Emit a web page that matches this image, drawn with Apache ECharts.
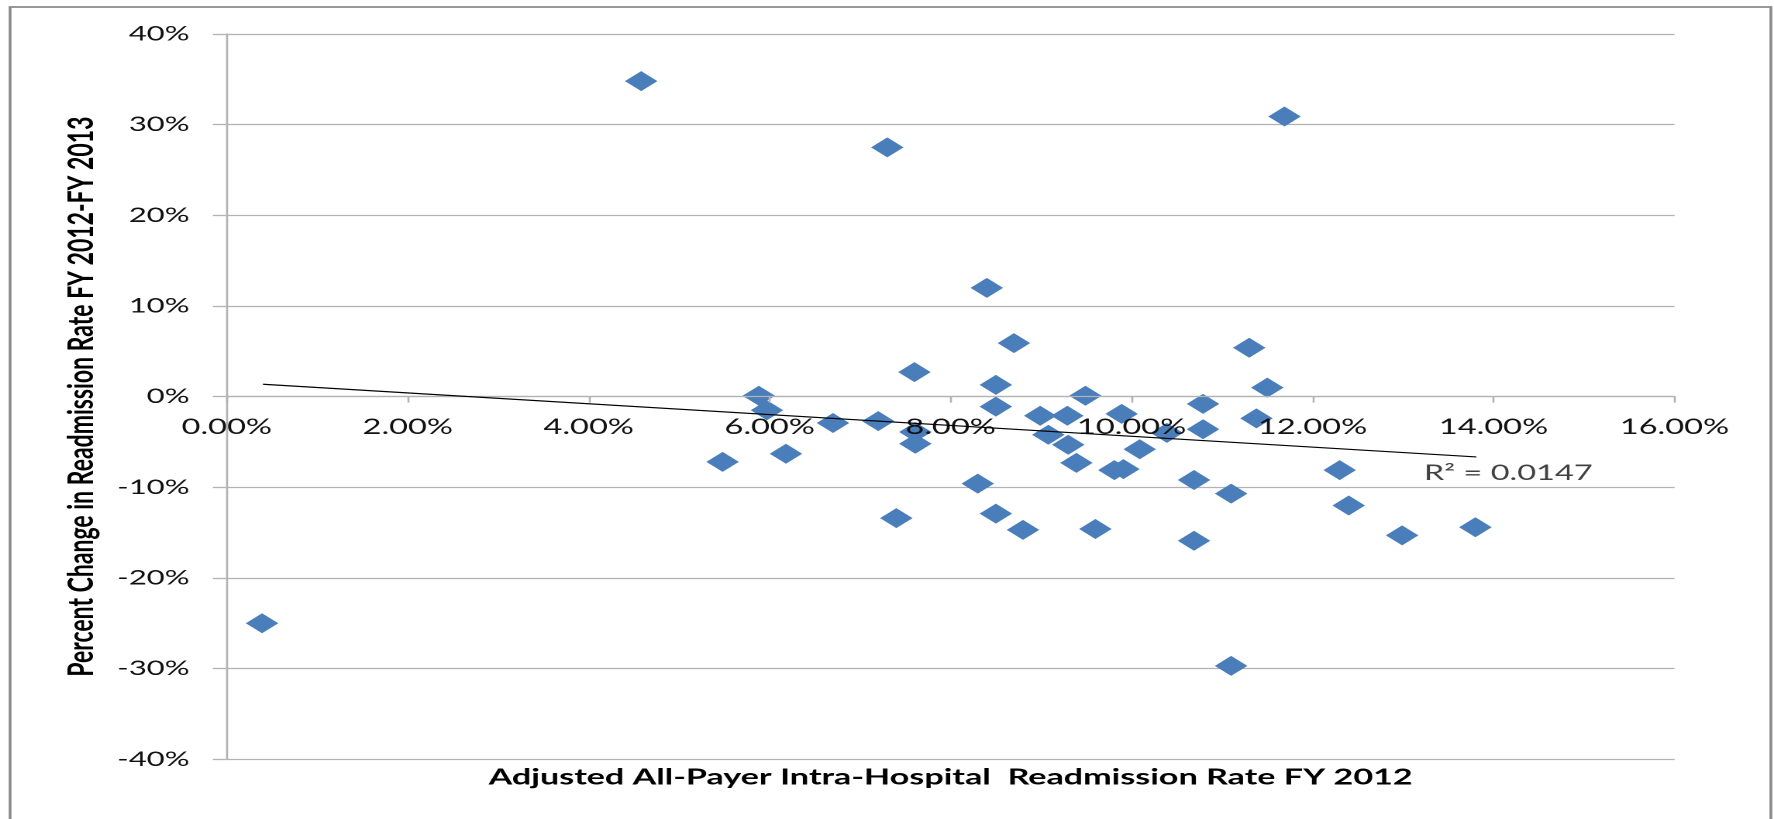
<!DOCTYPE html>
<html>
<head>
<meta charset="utf-8">
<title>Readmission rate FY 2012 vs change FY 2012-FY 2013</title>
<script src="https://cdn.jsdelivr.net/npm/echarts@6/dist/echarts.min.js"></script>
<style>
    html, body { margin: 0; padding: 0; background: #fff; overflow: hidden; }
    /* the original picture is stretched sideways, so draw narrower and stretch it back */
    #readmitChart {
        width: 1145px;
        height: 819px;
        transform: scaleX(1.55);
        transform-origin: 0 0;
    }
</style>
</head>
<body>
<div id="readmitChart"></div>
<script>
    // one point per hospital: adjusted readmission rate FY 2012 (x), change FY 2012-FY 2013 (y)
    var rateFY2012 = [
        0.0039, 0.0458, 0.0730, 0.1169, 0.0840, 0.0870, 0.1130, 0.0760, 0.0850, 0.1150,
        0.0588, 0.0949, 0.1079, 0.0597, 0.0850, 0.0670, 0.0720, 0.0761, 0.0761, 0.0899,
        0.0929, 0.0908, 0.0930, 0.0989, 0.1039, 0.1079, 0.1138, 0.1009, 0.0939, 0.0981,
        0.0991, 0.0548, 0.0618, 0.0830, 0.1069, 0.1110, 0.0740, 0.0850, 0.0880, 0.0960,
        0.1069, 0.1110, 0.1230, 0.1240, 0.1299, 0.1380
    ];
    var changeFY12to13 = [
        -0.250, 0.348, 0.275, 0.309, 0.120, 0.059, 0.054, 0.027, 0.013, 0.010,
        0.001, 0.001, -0.008, -0.015, -0.011, -0.029, -0.027, -0.039, -0.052, -0.021,
        -0.021, -0.042, -0.053, -0.019, -0.040, -0.036, -0.024, -0.058, -0.073, -0.081,
        -0.080, -0.072, -0.063, -0.096, -0.092, -0.107, -0.134, -0.129, -0.147, -0.146,
        -0.159, -0.297, -0.081, -0.120, -0.153, -0.144
    ];

    // linear trendline as drawn in the picture (its two ends)
    var trendX = [0.0040, 0.1381];
    var trendY = [0.0137, -0.0665];
    var rSquaredText = 'R² = 0.0147';
    var rSquaredAt = [0.1323, -0.0845];

    var xTickLabels = ['0.00%', '2.00%', '4.00%', '6.00%', '8.00%', '10.00%', '12.00%', '14.00%', '16.00%'];
    var yTickLabels = ['-40%', '-30%', '-20%', '-10%', '0%', '10%', '20%', '30%', '40%'];

    var points = rateFY2012.map(function (x, i) { return [x, changeFY12to13[i]]; });
    var trend = trendX.map(function (x, i) { return [x, trendY[i]]; });

    var gridGray = '#b3b3b3';
    var plotTop = 34, plotBottom = 59.7;
    // the x axis (line, ticks, labels, name) sits on the 0% line, half way up the plot
    var xAxisLift = -(819 - plotTop - plotBottom) / 2;

    var myChart = echarts.init(document.getElementById('readmitChart'), null, { devicePixelRatio: 2 });
    myChart.setOption({
        animation: false,
        textStyle: { fontFamily: 'Lato' },
        graphic: [{
            type: 'rect',
            silent: true,
            shape: { x: 6.5, y: 7, width: 1136, height: 840 },
            style: { fill: 'none', stroke: '#8a8a8a', lineWidth: 1.8 }
        }],
        grid: { left: 146.3, right: 64.7, top: plotTop, bottom: plotBottom, containLabel: false, outerBoundsMode: 'none' },
        xAxis: {
            type: 'value',
            min: 0,
            max: 0.16,
            interval: 0.02,
            z: 5,
            offset: xAxisLift,
            name: 'Adjusted All-Payer Intra-Hospital  Readmission Rate FY 2012',
            nameLocation: 'middle',
            nameGap: 370,
            nameTextStyle: { fontFamily: 'Lato', fontWeight: 'bold', fontSize: 22, color: '#000' },
            axisLine: { onZero: false, lineStyle: { color: gridGray, width: 1.3 } },
            axisTick: { show: true, length: 6, lineStyle: { color: gridGray, width: 1.3 } },
            axisLabel: {
                margin: 20,
                fontSize: 21,
                color: '#111',
                formatter: function (v, i) { return xTickLabels[i]; }
            },
            splitLine: { show: false }
        },
        yAxis: {
            type: 'value',
            min: -0.4,
            max: 0.4,
            interval: 0.1,
            name: 'Percent Change in Readmission Rate FY 2012-FY 2013',
            nameLocation: 'middle',
            nameGap: 82,
            nameTextStyle: { fontFamily: 'Lato', fontWeight: 'bold', fontSize: 23, color: '#000' },
            axisLine: { show: true, onZero: false, lineStyle: { color: gridGray, width: 1.3 } },
            axisTick: { show: true, length: 9, lineStyle: { color: gridGray, width: 1.3 } },
            axisLabel: {
                margin: 24,
                fontSize: 20,
                color: '#111',
                formatter: function (v, i) { return yTickLabels[i]; }
            },
            splitLine: { show: true, lineStyle: { color: gridGray, width: 1.3 } }
        },
        series: [{
            name: 'Hospitals',
            type: 'scatter',
            symbol: 'diamond',
            symbolSize: [21, 20],
            itemStyle: { color: '#4a7ebb', opacity: 1 },
            data: points,
            z: 3
        }, {
            name: 'Linear trend',
            type: 'line',
            showSymbol: false,
            lineStyle: { color: '#000', width: 1.2 },
            data: trend,
            z: 6
        }, {
            name: 'R squared',
            type: 'scatter',
            symbolSize: 0,
            silent: true,
            label: {
                show: true,
                position: 'right',
                distance: 0,
                fontSize: 21,
                color: '#111',
                formatter: rSquaredText
            },
            data: [rSquaredAt],
            z: 6
        }]
    });
</script>
</body>
</html>
